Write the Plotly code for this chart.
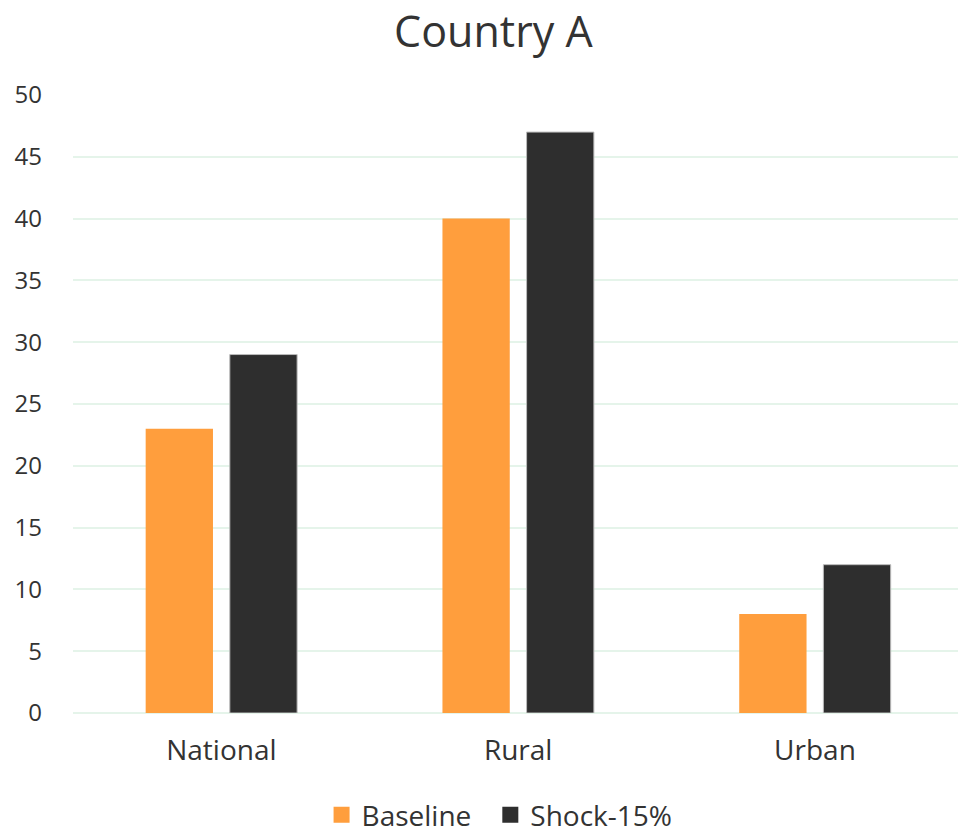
import plotly.graph_objects as go

categories = ["National", "Rural", "Urban"]
baseline = [23, 40, 8]
shock = [29, 47, 12]
tick_vals = [0, 5, 10, 15, 20, 25, 30, 35, 40, 45, 50]

FONT = "Open Sans, Noto Sans, sans-serif"
ORANGE = "#FF9E3D"
DARK = "#2E2E2E"
fig = go.Figure()
fig.add_trace(go.Bar(x=categories, y=baseline, name="Baseline", showlegend=False,
                     marker=dict(color=ORANGE, line=dict(width=0))))
fig.add_trace(go.Bar(x=categories, y=shock, name="Shock-15%", showlegend=False,
                     marker=dict(color=DARK, line=dict(width=1, color="#BBBBBB"))))
# legend entries with larger square swatches
fig.add_trace(go.Scatter(x=[None], y=[None], mode="markers", name="Baseline\u2002",
                         marker=dict(symbol="square", size=21, color=ORANGE)))
fig.add_trace(go.Scatter(x=[None], y=[None], mode="markers", name="Shock-15%",
                         marker=dict(symbol="square", size=21, color=DARK)))

fig.update_layout(
    width=958, height=834,
    margin=dict(l=73, r=0, t=95, b=121, autoexpand=False),
    paper_bgcolor="white", plot_bgcolor="white",
    title=dict(text="Country A", x=0.515, xanchor="center", y=0.962, yanchor="middle",
               font=dict(family=FONT, size=43, color="#333333")),
    bargap=0.433, bargroupgap=0.2,
    font=dict(family=FONT, color="#333333"),
    legend=dict(orientation="h", x=0.482, xanchor="center", y=-0.165, yanchor="middle",
                font=dict(size=28, color="#333333"), itemsizing="trace",
                traceorder="normal", itemwidth=30),
    xaxis=dict(tickfont=dict(size=28, color="#333333"), showline=False, ticks="",
               showgrid=False, range=[-0.5, 2.482], ticklabelstandoff=18),
    yaxis=dict(range=[0, 50], tickvals=tick_vals, showgrid=True, gridcolor="#E5F4EA",
               gridwidth=2, zeroline=True, zerolinecolor="#E5F4EA", zerolinewidth=2,
               tickfont=dict(size=24, color="#333333"), ticks="", ticklabelstandoff=30),
)
fig.write_html("out.html")
